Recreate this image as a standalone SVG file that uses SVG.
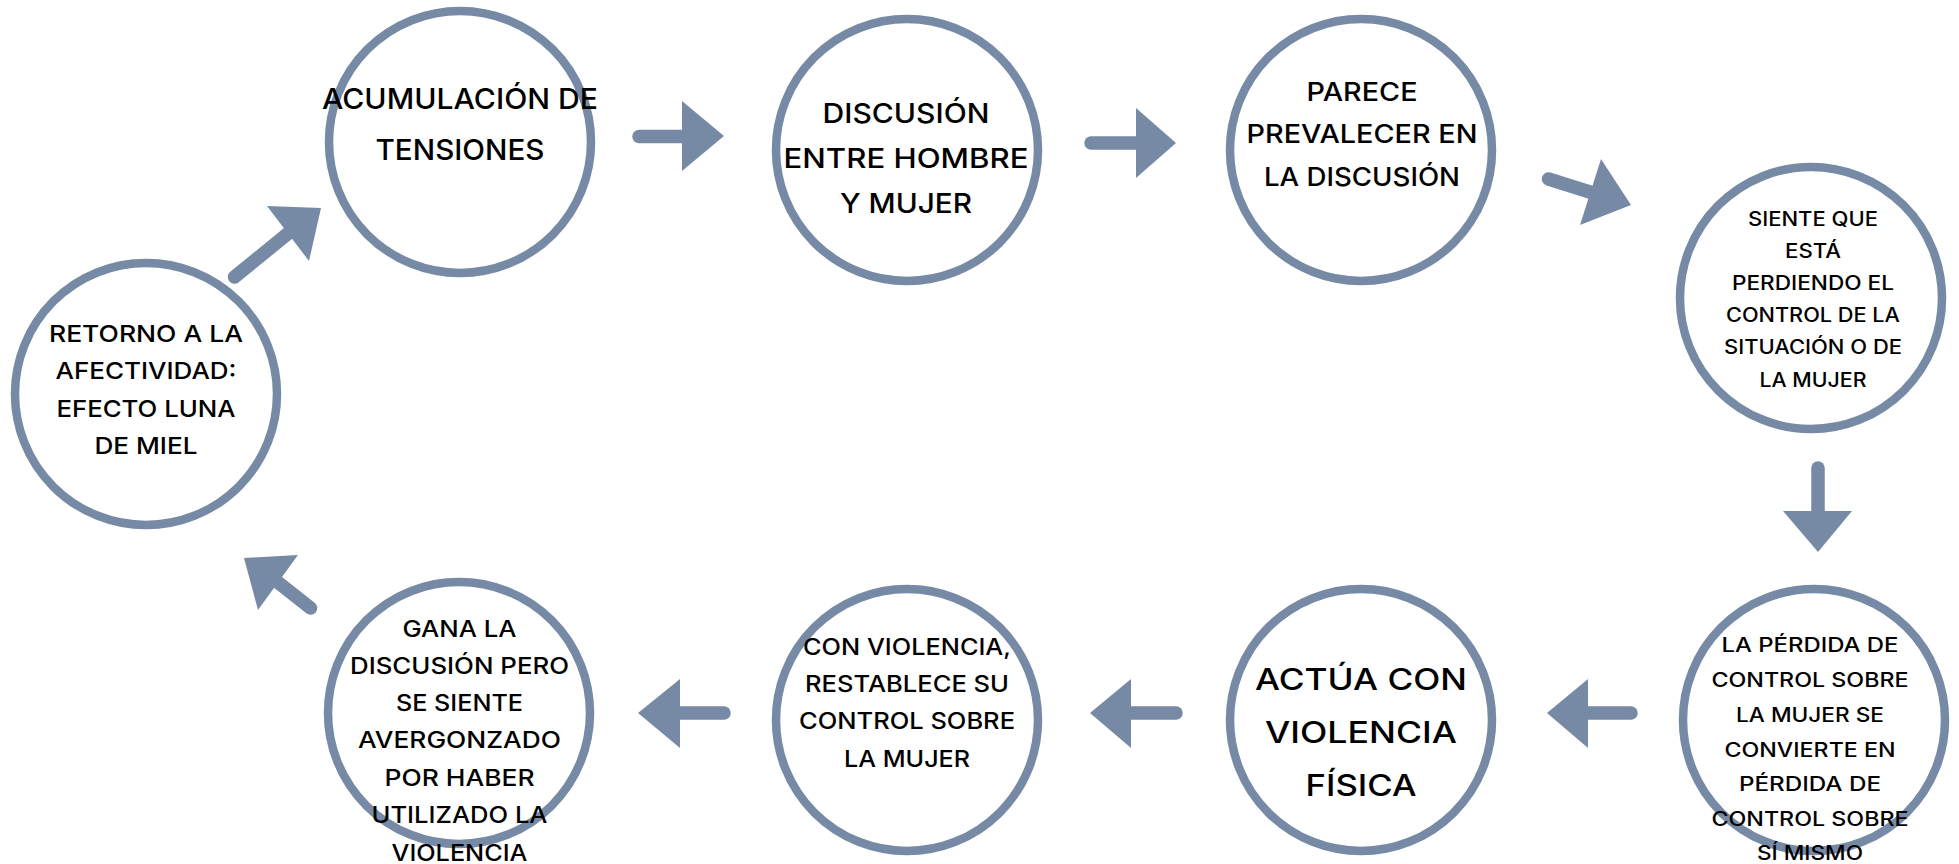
<svg xmlns="http://www.w3.org/2000/svg" width="1959" height="864" viewBox="0 0 1959 864">
<style>
.node circle{fill:#ffffff;stroke:#778aa5;stroke-width:8.5}
.node text{font-family:Inter,"Noto Sans","DejaVu Sans",sans-serif;font-weight:500;fill:#000;text-anchor:middle}
.shaft{stroke:#778aa5;stroke-width:13.5;stroke-linecap:round;fill:none}
.head{fill:#778aa5}
</style>
<rect width="1959" height="864" fill="#ffffff"/>
<g id="connectors">
<line class="shaft" x1="639" y1="136.5" x2="686" y2="136.5"/>
<polygon class="head" points="682,101 724,136 682,171"/>
<line class="shaft" x1="1091" y1="143" x2="1139" y2="143"/>
<polygon class="head" points="1136,108 1176,143 1136,178"/>
<line class="shaft" x1="1548.5" y1="179" x2="1593" y2="193"/>
<polygon class="head" points="1601,159 1631,205 1580,225"/>
<line class="shaft" x1="1818" y1="468" x2="1818" y2="515"/>
<polygon class="head" points="1783,511 1852,511 1818,552"/>
<line class="shaft" x1="1631" y1="713" x2="1584" y2="713"/>
<polygon class="head" points="1588,679 1588,748 1547,713"/>
<line class="shaft" x1="1176" y1="713" x2="1128" y2="713"/>
<polygon class="head" points="1131,679 1131,748 1090,713"/>
<line class="shaft" x1="724" y1="713" x2="676" y2="713"/>
<polygon class="head" points="680,679 680,748 638,713"/>
<line class="shaft" x1="310.5" y1="608" x2="275" y2="580"/>
<polygon class="head" points="298,555 244,558 258,610"/>
<line class="shaft" x1="234.5" y1="277" x2="291" y2="231"/>
<polygon class="head" points="267,206 321,208 309,261"/>
</g>
<g id="n1" class="node">
<circle cx="460" cy="142" r="131"/>
<text x="460" y="108.5" font-size="28.5" textLength="276" lengthAdjust="spacingAndGlyphs">ACUMULACIÓN DE</text>
<text x="460" y="160" font-size="28.5" textLength="169" lengthAdjust="spacingAndGlyphs">TENSIONES</text>
</g>
<g id="n2" class="node">
<circle cx="907" cy="150" r="131"/>
<text x="906" y="122.5" font-size="27.5" textLength="167" lengthAdjust="spacingAndGlyphs">DISCUSIÓN</text>
<text x="906" y="168" font-size="27.5" textLength="245" lengthAdjust="spacingAndGlyphs">ENTRE HOMBRE</text>
<text x="906" y="213" font-size="27.5" textLength="132" lengthAdjust="spacingAndGlyphs">Y MUJER</text>
</g>
<g id="n3" class="node">
<circle cx="1361" cy="150" r="131"/>
<text x="1362" y="100.5" font-size="25.6" textLength="111" lengthAdjust="spacingAndGlyphs">PARECE</text>
<text x="1362" y="143" font-size="25.6" textLength="231" lengthAdjust="spacingAndGlyphs">PREVALECER EN</text>
<text x="1362" y="186" font-size="25.6" textLength="196" lengthAdjust="spacingAndGlyphs">LA DISCUSIÓN</text>
</g>
<g id="n4" class="node">
<circle cx="1811" cy="298" r="131"/>
<text x="1813" y="226" font-size="19.6" textLength="130" lengthAdjust="spacingAndGlyphs">SIENTE QUE</text>
<text x="1813" y="258" font-size="19.6" textLength="56" lengthAdjust="spacingAndGlyphs">ESTÁ</text>
<text x="1813" y="290" font-size="19.6" textLength="162" lengthAdjust="spacingAndGlyphs">PERDIENDO EL</text>
<text x="1813" y="322" font-size="19.6" textLength="174" lengthAdjust="spacingAndGlyphs">CONTROL DE LA</text>
<text x="1813" y="354" font-size="19.6" textLength="178" lengthAdjust="spacingAndGlyphs">SITUACIÓN O DE</text>
<text x="1813" y="387" font-size="19.6" textLength="107" lengthAdjust="spacingAndGlyphs">LA MUJER</text>
</g>
<g id="n5" class="node">
<circle cx="1814" cy="720" r="131"/>
<text x="1810" y="652" font-size="19.6" textLength="177" lengthAdjust="spacingAndGlyphs">LA PÉRDIDA DE</text>
<text x="1810" y="687" font-size="19.6" textLength="197" lengthAdjust="spacingAndGlyphs">CONTROL SOBRE</text>
<text x="1810" y="722" font-size="19.6" textLength="148" lengthAdjust="spacingAndGlyphs">LA MUJER SE</text>
<text x="1810" y="757" font-size="19.6" textLength="171" lengthAdjust="spacingAndGlyphs">CONVIERTE EN</text>
<text x="1810" y="791" font-size="19.6" textLength="142" lengthAdjust="spacingAndGlyphs">PÉRDIDA DE</text>
<text x="1810" y="826" font-size="19.6" textLength="197" lengthAdjust="spacingAndGlyphs">CONTROL SOBRE</text>
<text x="1810" y="860" font-size="19.6" textLength="106" lengthAdjust="spacingAndGlyphs">SÍ MISMO</text>
</g>
<g id="n6" class="node">
<circle cx="1361" cy="720" r="131"/>
<text x="1361" y="690" font-size="30" textLength="212" lengthAdjust="spacingAndGlyphs">ACTÚA CON</text>
<text x="1361" y="743" font-size="30" textLength="192" lengthAdjust="spacingAndGlyphs">VIOLENCIA</text>
<text x="1361" y="796" font-size="30" textLength="111" lengthAdjust="spacingAndGlyphs">FÍSICA</text>
</g>
<g id="n7" class="node">
<circle cx="907" cy="720" r="131"/>
<text x="907" y="655" font-size="23" textLength="208" lengthAdjust="spacingAndGlyphs">CON VIOLENCIA,</text>
<text x="907" y="692" font-size="23" textLength="204" lengthAdjust="spacingAndGlyphs">RESTABLECE SU</text>
<text x="907" y="729" font-size="23" textLength="216" lengthAdjust="spacingAndGlyphs">CONTROL SOBRE</text>
<text x="907" y="767" font-size="23" textLength="126" lengthAdjust="spacingAndGlyphs">LA MUJER</text>
</g>
<g id="n8" class="node">
<circle cx="459" cy="713" r="131"/>
<text x="459.5" y="637" font-size="22.5" textLength="114" lengthAdjust="spacingAndGlyphs">GANA LA</text>
<text x="459.5" y="674" font-size="22.5" textLength="219" lengthAdjust="spacingAndGlyphs">DISCUSIÓN PERO</text>
<text x="459.5" y="711" font-size="22.5" textLength="127" lengthAdjust="spacingAndGlyphs">SE SIENTE</text>
<text x="459.5" y="748" font-size="22.5" textLength="203" lengthAdjust="spacingAndGlyphs">AVERGONZADO</text>
<text x="459.5" y="786" font-size="22.5" textLength="150" lengthAdjust="spacingAndGlyphs">POR HABER</text>
<text x="459.5" y="823" font-size="22.5" textLength="176" lengthAdjust="spacingAndGlyphs">UTILIZADO LA</text>
<text x="459.5" y="861" font-size="22.5" textLength="136" lengthAdjust="spacingAndGlyphs">VIOLENCIA</text>
</g>
<g id="n9" class="node">
<circle cx="146" cy="394" r="131"/>
<text x="146" y="342" font-size="23.4" textLength="194" lengthAdjust="spacingAndGlyphs">RETORNO A LA</text>
<text x="146" y="379" font-size="23.4" textLength="181" lengthAdjust="spacingAndGlyphs">AFECTIVIDAD:</text>
<text x="146" y="417" font-size="23.4" textLength="179" lengthAdjust="spacingAndGlyphs">EFECTO LUNA</text>
<text x="146" y="454" font-size="23.4" textLength="103" lengthAdjust="spacingAndGlyphs">DE MIEL</text>
</g>
</svg>
